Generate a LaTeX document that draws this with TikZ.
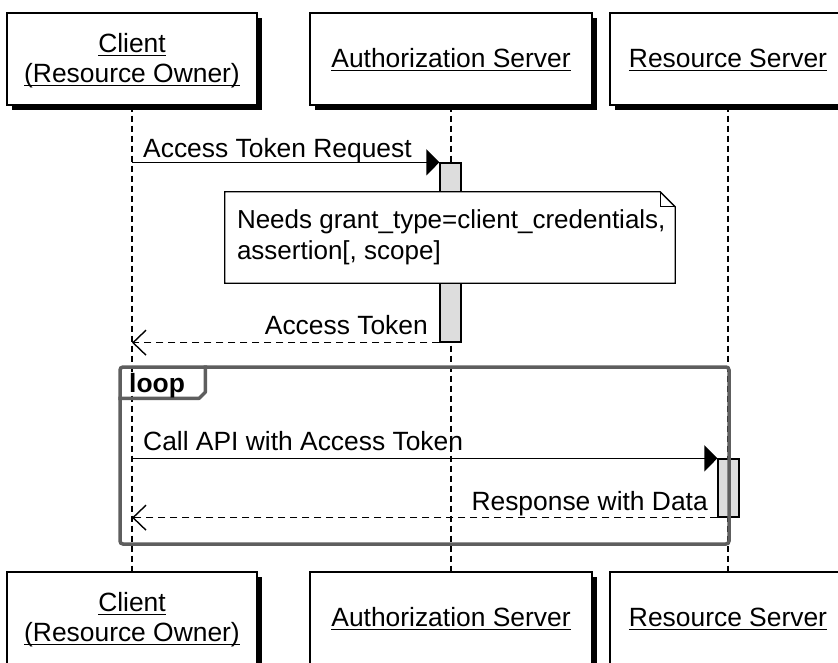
\documentclass[tikz,border=0pt]{standalone}
\usepackage{fontspec}
\setmainfont{Liberation Sans}
\usetikzlibrary{arrows.meta,shadows}
\definecolor{framegray}{HTML}{5E5E5E}
\definecolor{actgray}{HTML}{DDDDDD}
\newcommand{\pul}[1]{\smash{\raisebox{-8pt}{\setbox0\hbox{#1}\rlap{\rule[-4pt]{\wd0}{1.2pt}}\box0}}}
\tikzset{
  part/.style={draw=black, line width=1.4pt, fill=white, inner sep=0pt,
    minimum height=92pt, align=center,
    font=\fontsize{26.4}{30}\selectfont,
    drop shadow={shadow xshift=4.5pt, shadow yshift=-4.5pt, fill=black, opacity=1}},
  life/.style={draw=black, line width=1.3pt, dash pattern=on 6pt off 4pt},
  act/.style={draw=black, line width=1.3pt, fill=actgray, inner sep=0pt, minimum width=21pt},
  msg/.style={draw=black, line width=1.4pt, -{Triangle[length=13pt,width=26pt]}},
  ret/.style={draw=black, line width=1.4pt, dash pattern=on 7pt off 5pt, -{Straight Barb[length=13pt,width=25pt,line width=1.4pt]}},
  lbl/.style={inner sep=0pt, font=\fontsize{26.4}{30.5}\selectfont},
  notetext/.style={inner sep=0pt, font=\fontsize{26}{30.5}\selectfont},
  notebox/.style={inner sep=0pt},
  noteline/.style={draw=black, line width=1.3pt, fill=white, line join=miter},
  loopframe/.style={draw=framegray, line width=3.5pt, rounded corners=3pt, inner sep=0pt},
  looptab/.style={draw=framegray, line width=3.5pt, line join=round}
}
\begin{document}
\begin{tikzpicture}[x=1pt, y=-1pt]
\useasboundingbox (0,0) rectangle (838,662);
\clip (0,0) rectangle (838,662);
\fill[white] (0,0) rectangle (838,662);

% participants
\node[part, minimum width=250pt] (cT) at (132,59) {\pul{Client}\\\pul{(Resource Owner)}};
\node[part, minimum width=282pt] (aT) at (451,59) {\pul{Authorization Server}};
\node[part, minimum width=236pt] (rT) at (728,59) {\pul{Resource Server}};
\node[part, minimum width=250pt] (cB) at (132,618) {\pul{Client}\\\pul{(Resource Owner)}};
\node[part, minimum width=282pt] (aB) at (451,618) {\pul{Authorization Server}};
\node[part, minimum width=236pt] (rB) at (728,618) {\pul{Resource Server}};

% lifelines
\draw[life] (cT.south) -- (cB.north);
\draw[life] (aT.south) -- (aB.north);
\draw[life] (rT.south) -- (rB.north);

% activations
\node[act, minimum height=179pt] (actA) at (450.5,252.5) {};
\node[act, minimum height=58pt] (actR) at (728.5,488) {};

% note
\node[notebox, minimum width=450pt, minimum height=91pt] (note) at (450,237.5) {};
\draw[noteline] (note.north west) -- ([xshift=-15pt]note.north east)
  -- ([yshift=-15pt]note.north east) -- (note.south east) -- (note.south west) -- cycle;
\draw[noteline, fill=none] ([xshift=-15pt]note.north east) |- ([yshift=-15pt]note.north east);
\node[notetext, anchor=west, align=left] (noteTxt) at ([xshift=12pt]note.west)
  {Needs grant\_type=client\_credentials,\\assertion[, scope]};

% messages
\draw[msg] (cT.south |- actA.north) -- (actA.north west);
\node[lbl, anchor=base west] (m1) at (143,157) {Access Token Request};
\draw[ret] (actA.south west) -- (cT.south |- actA.south);
\node[lbl, anchor=base east] (m2) at (428,334) {Access Token};

\draw[msg] (cT.south |- actR.north) -- (actR.north west);
\node[lbl, anchor=base west] (m3) at (143,450) {Call API with Access Token};
\draw[ret] (actR.south west) -- (cT.south |- actR.south);
\node[lbl, anchor=base east] (m4) at (708,510) {Response with Data};

% loop frame
\node[loopframe, minimum width=609pt, minimum height=177pt] (loop) at (424.5,455.5) {};
\draw[looptab] ([xshift=87pt]loop.north west) -- ([xshift=87pt,yshift=-27pt]loop.north west)
  -- ([xshift=81pt,yshift=-33pt]loop.north west) -- ([yshift=-33pt]loop.north west);
\node[lbl, anchor=base west, font=\fontsize{26.4}{30.5}\selectfont\bfseries] (loopLbl) at (129,392) {loop};
\end{tikzpicture}
\end{document}
